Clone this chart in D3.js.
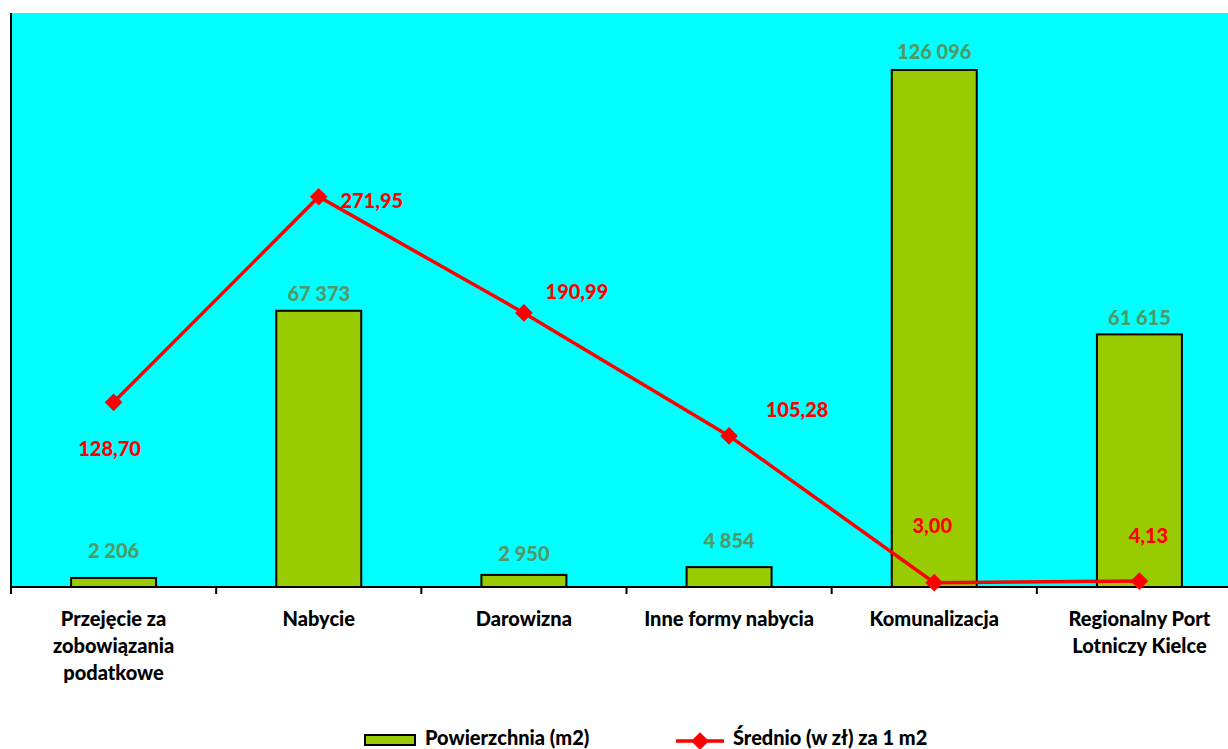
<!DOCTYPE html>
<html>
<head>
<meta charset="utf-8">
<script src="https://cdn.jsdelivr.net/npm/d3@7"></script>
<style>
body { margin: 0; background: #fff; }
text { font-family: Lato, "Open Sans", sans-serif; font-weight: 900; }
</style>
</head>
<body>
<div id="chart"></div>
<script>
var width = 1228, height = 749

// Data
var categories = ["Przejęcie za zobowiązania podatkowe", "Nabycie", "Darowizna", "Inne formy nabycia", "Komunalizacja", "Regionalny Port Lotniczy Kielce"]
var categoryLines = [["Przejęcie za", "zobowiązania", "podatkowe"], ["Nabycie"], ["Darowizna"], ["Inne formy nabycia"], ["Komunalizacja"], ["Regionalny Port", "Lotniczy Kielce"]]
var area = [2206, 67373, 2950, 4854, 126096, 61615]
var areaLabels = ["2 206", "67 373", "2 950", "4 854", "126 096", "61 615"]
var avgPrice = [128.70, 271.95, 190.99, 105.28, 3.00, 4.13]
var avgLabels = ["128,70", "271,95", "190,99", "105,28", "3,00", "4,13"]

// label offsets (dx, dy) for the red series and dy for the bar labels
var avgLabelOffsets = [[-4, 49], [53, 6], [53, -19], [68, -24], [-2, -55], [9, -43]]
var areaLabelOffsets = [-25, -15, -19, -24, -16, -15]

var margin = {left: 11, top: 13, right: -14, bottom: 162}
var plotW = width - margin.left - margin.right
var plotH = height - margin.top - margin.bottom

var svg = d3.select("#chart").append("svg")
    .attr("width", width)
    .attr("height", height)

var g = svg.append("g")
    .attr("transform", "translate(" + margin.left + "," + margin.top + ")")

// plot background
g.append("rect")
    .attr("width", plotW)
    .attr("height", plotH)
    .attr("fill", "#00FFFF")

var x = d3.scaleBand()
    .domain(categories)
    .range([0, plotW])

var y = d3.scaleLinear().domain([0, 140000]).range([plotH, 0])
var y2 = d3.scaleLinear().domain([0, 400]).range([plotH, 0])

var barW = 85

// bars
g.selectAll(".bar")
    .data(area)
    .enter().append("rect")
    .attr("class", "bar")
    .attr("x", function(d, i) { return x(categories[i]) + x.bandwidth() / 2 - barW / 2 })
    .attr("y", function(d) { return y(d) })
    .attr("width", barW)
    .attr("height", function(d) { return plotH - y(d) })
    .attr("fill", "#99CC00")
    .attr("stroke", "#000")
    .attr("stroke-width", 2)

// bar labels
g.selectAll(".barLabel")
    .data(area)
    .enter().append("text")
    .attr("class", "barLabel")
    .attr("x", function(d, i) { return x(categories[i]) + x.bandwidth() / 2 })
    .attr("y", function(d, i) { return y(d) + areaLabelOffsets[i] })
    .attr("text-anchor", "middle")
    .attr("dominant-baseline", "middle")
    .attr("font-size", 20)
    .attr("fill", "#4E9A68")
    .text(function(d, i) { return areaLabels[i] })

// x axis
var xAxis = g.append("g")
    .attr("transform", "translate(0," + plotH + ")")
xAxis.append("line")
    .attr("x1", 0).attr("x2", plotW)
    .attr("stroke", "#000").attr("stroke-width", 2)
xAxis.selectAll(".tick")
    .data(d3.range(categories.length + 1))
    .enter().append("line")
    .attr("x1", function(d) { return d * x.bandwidth() })
    .attr("x2", function(d) { return d * x.bandwidth() })
    .attr("y1", 0).attr("y2", 7)
    .attr("stroke", "#000").attr("stroke-width", 2)

// left axis line
g.append("line")
    .attr("x1", 0).attr("x2", 0)
    .attr("y1", 0).attr("y2", plotH)
    .attr("stroke", "#000").attr("stroke-width", 2)

// category labels
var catText = xAxis.selectAll(".cat")
    .data(categories)
    .enter().append("text")
    .attr("class", "cat")
    .attr("text-anchor", "middle")
    .attr("font-size", 20)
    .attr("fill", "#000")
catText.each(function(d, i) {
    var t = d3.select(this)
    categoryLines[i].forEach(function(line, j) {
        t.append("tspan")
            .attr("x", x(d) + x.bandwidth() / 2)
            .attr("y", 39 + j * 27)
            .text(line)
    })
})

// line series
var line = d3.line()
    .x(function(d, i) { return x(categories[i]) + x.bandwidth() / 2 })
    .y(function(d) { return y2(d) })

g.append("path")
    .datum(avgPrice)
    .attr("d", line)
    .attr("fill", "none")
    .attr("stroke", "#FF0000")
    .attr("stroke-width", 3.5)

var diamond = d3.symbol().type(d3.symbolDiamond2).size(200)
g.selectAll(".marker")
    .data(avgPrice)
    .enter().append("path")
    .attr("class", "marker")
    .attr("d", diamond)
    .attr("transform", function(d, i) {
        return "translate(" + (x(categories[i]) + x.bandwidth() / 2) + "," + y2(d) + ")"
    })
    .attr("fill", "#FF0000")

g.selectAll(".avgLabel")
    .data(avgPrice)
    .enter().append("text")
    .attr("class", "avgLabel")
    .attr("x", function(d, i) { return x(categories[i]) + x.bandwidth() / 2 + avgLabelOffsets[i][0] })
    .attr("y", function(d, i) { return y2(d) + avgLabelOffsets[i][1] })
    .attr("text-anchor", "middle")
    .attr("dominant-baseline", "middle")
    .attr("font-size", 20)
    .attr("fill", "#FF0000")
    .text(function(d, i) { return avgLabels[i] })

// legend
var legend = svg.append("g")
legend.append("rect")
    .attr("x", 365).attr("y", 735)
    .attr("width", 50).attr("height", 10)
    .attr("fill", "#99CC00")
    .attr("stroke", "#000").attr("stroke-width", 2)
legend.append("text")
    .attr("x", 425).attr("y", 745)
    .attr("font-size", 20)
    .text("Powierzchnia (m2)")
legend.append("line")
    .attr("x1", 676).attr("x2", 724)
    .attr("y1", 741).attr("y2", 741)
    .attr("stroke", "#FF0000").attr("stroke-width", 3.5)
legend.append("path")
    .attr("d", diamond)
    .attr("transform", "translate(700,741)")
    .attr("fill", "#FF0000")
legend.append("text")
    .attr("x", 733).attr("y", 745)
    .attr("font-size", 20)
    .text("Średnio (w zł) za 1 m2")
</script>
</body>
</html>
